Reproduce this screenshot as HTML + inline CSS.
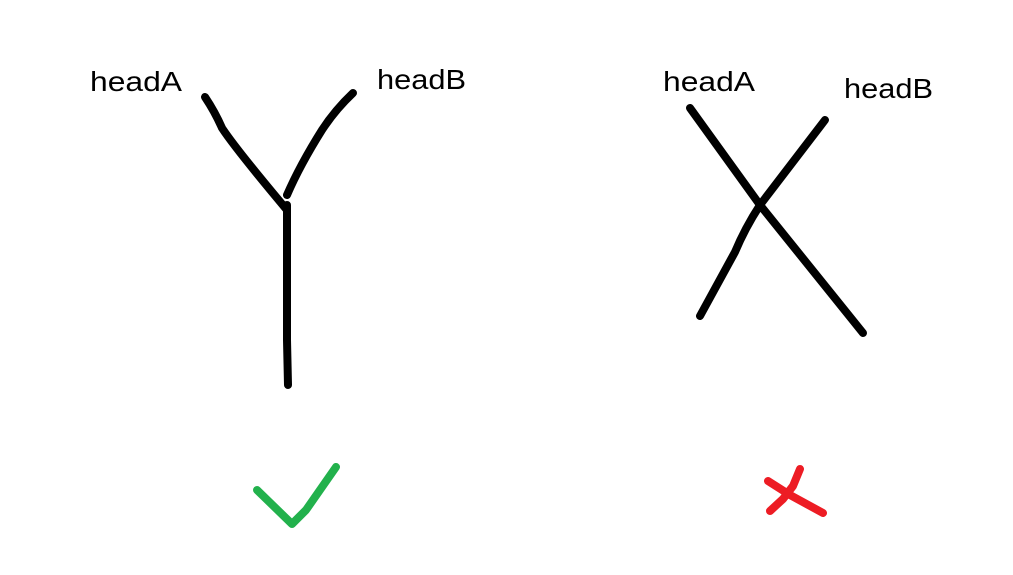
<!DOCTYPE html>
<html><head><meta charset="utf-8"><style>
html,body{margin:0;padding:0;background:#fff;width:1013px;height:575px;overflow:hidden}
text{font-family:"Liberation Sans",sans-serif;font-size:28px;fill:#000}
</style></head><body>
<svg width="1013" height="575" viewBox="0 0 1013 575">
<g fill="none" stroke="#000" stroke-width="8" stroke-linecap="round" stroke-linejoin="round">
<path d="M205,97 Q215,112 222,128 Q235,148 287,210"/>
<path d="M353,93 Q335,110 322,130 Q300,165 287,195"/>
<path d="M287,205 L287,340 L288,385"/>
<path d="M690,108 L760,205 L863,333"/>
<path d="M825,120 L760,205 Q745,228 735,252 L700,316"/>
</g>
<text x="90" y="91" textLength="92" lengthAdjust="spacingAndGlyphs">headA</text>
<text x="377" y="89" textLength="89" lengthAdjust="spacingAndGlyphs">headB</text>
<text x="663" y="91" textLength="92" lengthAdjust="spacingAndGlyphs">headA</text>
<text x="844" y="98" textLength="89" lengthAdjust="spacingAndGlyphs">headB</text>
<path d="M257,490 L292,524 L306,510 Q320,490 336,467" fill="none" stroke="#22b14c" stroke-width="8" stroke-linecap="round" stroke-linejoin="round"/>
<g fill="none" stroke="#ed1c24" stroke-width="8" stroke-linecap="round" stroke-linejoin="round">
<path d="M768,481 L790,495 L823,513"/>
<path d="M800,469 L793,486 L783,499 L770,511"/>
</g>
</svg>
</body></html>
